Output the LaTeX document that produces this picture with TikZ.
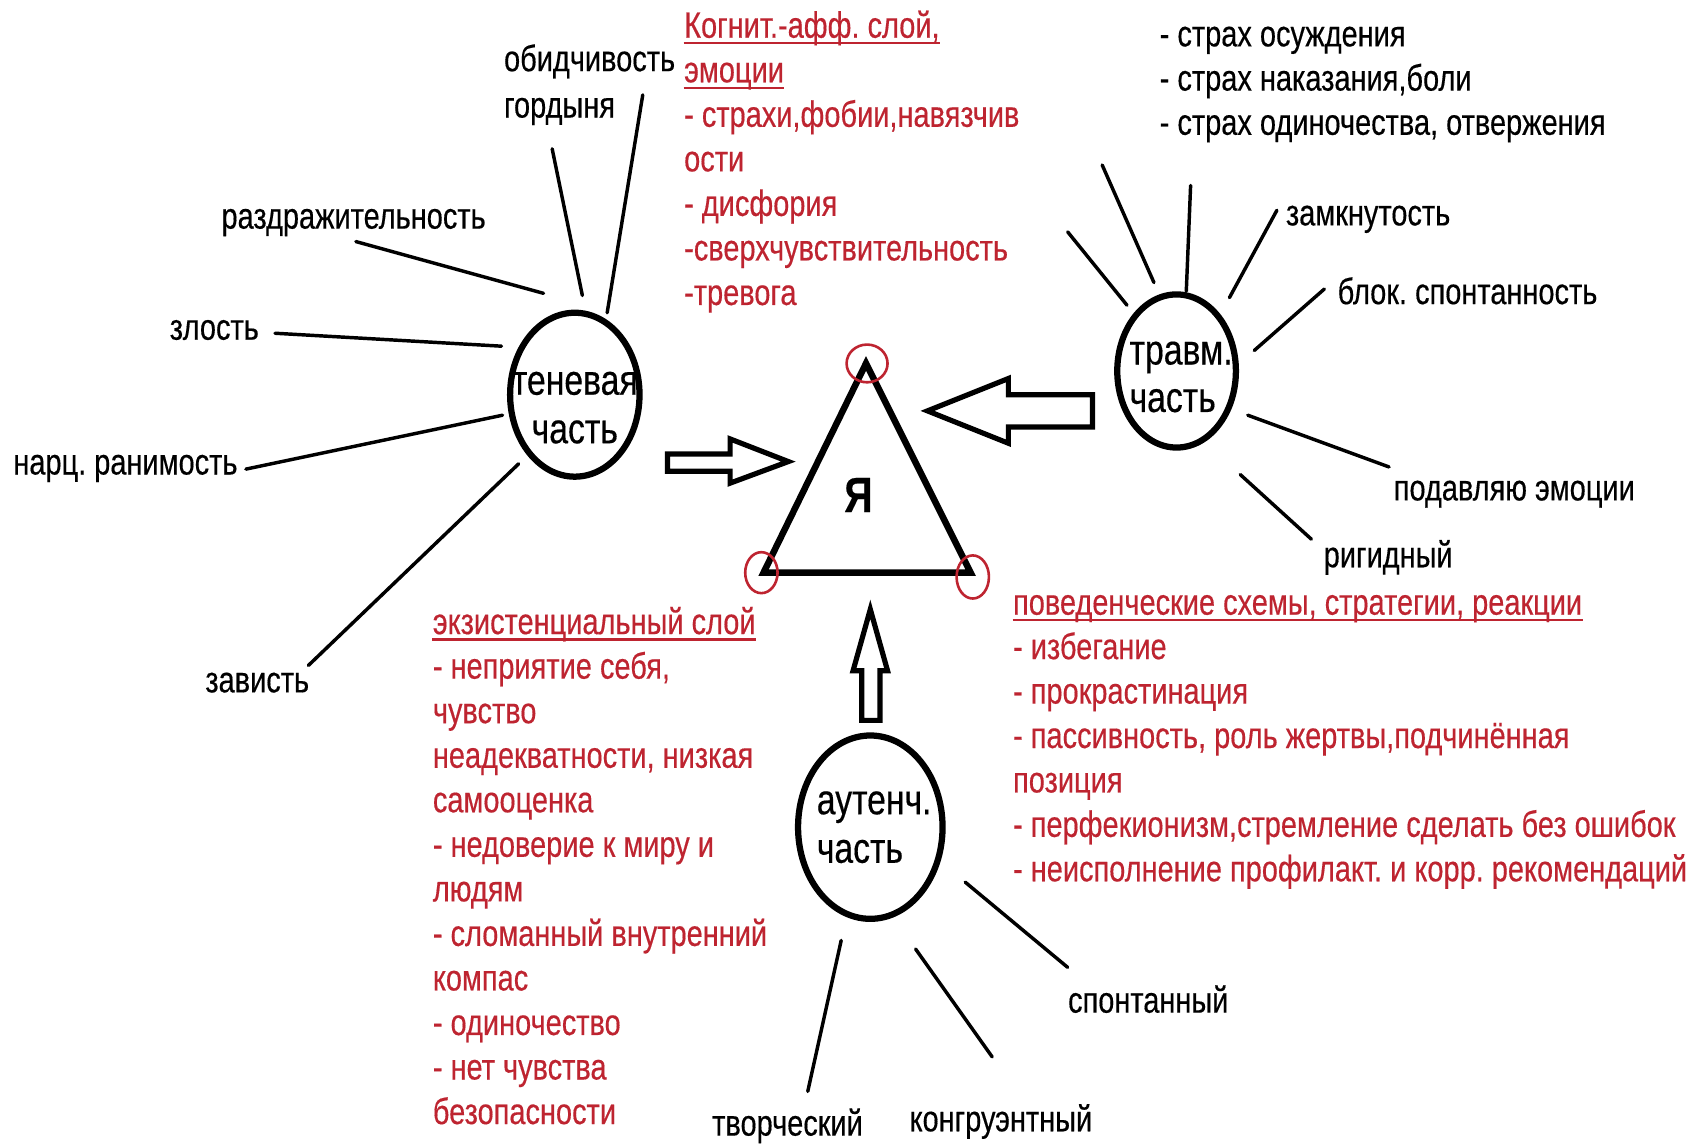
\documentclass[tikz,border=0pt]{standalone}
\usepackage{fontspec}
\setmainfont[FakeStretch=0.79,FakeBold=0.35]{Liberation Sans}
\usetikzlibrary{shapes.geometric}
\definecolor{rd}{RGB}{190,36,48}
\begin{document}
\frenchspacing
\begin{tikzpicture}[x=0.5pt,y=-0.5pt,
  lbl/.style={anchor=base west, inner sep=0pt, font=\fontsize{17}{20}\selectfont},
  rlbl/.style={lbl, text=rd},
  ray/.style={line width=1.6pt, line cap=round},
  part/.style={ellipse, draw, line width=2.9pt, inner sep=0pt},
  ptxt/.style={anchor=base west, inner sep=0pt, font=\fontsize{19.8}{23}\selectfont},
  vmark/.style={ellipse, draw=rd, line width=1.2pt, inner sep=0pt},
  blk/.style={draw, line width=2.4pt, line join=miter, fill=white},
  ul/.style={draw=rd, line width=1pt}]

\fill[white] (0,0) rectangle (1568,1064);
\useasboundingbox (0,0) rectangle (1568,1064);

% ---- parts (circles)
\node[part, minimum width=60pt, minimum height=76pt] (sh) at (533,366) {};
\node[part, minimum width=55pt, minimum height=71pt] (tr) at (1091,344) {};
\node[part, minimum width=67pt, minimum height=85pt] (au) at (807,767) {};

\node[ptxt, anchor=base] (sht1) at (533,366) {теневая};
\node[ptxt, anchor=base] (sht2) at (533,411) {часть};
\node[ptxt] (trt1) at (1047,338) {травм.};
\node[ptxt] (trt2) at (1047,382) {часть};
\node[ptxt] (aut1) at (757,755) {аутенч.};
\node[ptxt] (aut2) at (757,800) {часть};

% ---- triangle "Я"
\coordinate (A) at (803,337);
\coordinate (B) at (708,531);
\coordinate (C) at (900,531);
\draw[line width=3pt, line join=miter] (A) -- (B) -- (C) -- cycle;
\node[font=\bfseries\fontsize{23}{25}\selectfont, inner sep=0pt] (ya) at (796,459) {Я};
\node[vmark, minimum width=19pt, minimum height=17.5pt] (mA) at (804,337) {};
\node[vmark, minimum width=15pt, minimum height=19pt] (mB) at (706,531) {};
\node[vmark, minimum width=15pt, minimum height=20pt] (mC) at (902,535) {};

% ---- block arrows
\draw[blk] (619,421) -- (677,421) -- (677,407) -- (731,428) -- (677,448) -- (677,437) -- (619,437) -- cycle;
\draw[blk] (1013,366) -- (935,366) -- (935,351) -- (860,381) -- (935,411) -- (935,396) -- (1013,396) -- cycle;
\draw[blk] (799,668) -- (799,622) -- (791,622) -- (807,565) -- (823,622) -- (816,622) -- (816,668) -- cycle;

% ---- rays
\foreach \n/\ax/\ay/\bx/\by in {
  s1/563/290/596/88, s2/540/274/512/138, s3/504/272/330/224,
  s4/465/321/255/309, s5/466/385/228/435, s6/481/430/286/617,
  t1/1045/283/990/215, t2/1070/262/1022/153, t3/1100/270/1104/172,
  t4/1140/276/1184/195, t5/1163/325/1228/268, t6/1157/385/1288/433,
  t7/1150/440/1216/500,
  a1/780/872/749/1012, a2/849/880/920/980, a3/895/818/990/897}{
  \coordinate (\n a) at (\ax,\ay);
  \coordinate (\n b) at (\bx,\by);
  \draw[ray] (\n a) -- (\n b);
}

% ---- black labels
\node[lbl] (obid) at (467,66) {обидчивость};
\node[lbl] (gord) at (467,109) {гордыня};
\node[lbl] (razd) at (205,212) {раздражительность};
\node[lbl] (zlos) at (157,315) {злость};
\node[lbl] (narc) at (12,440) {нарц. ранимость};
\node[lbl] (zavi) at (190,642) {зависть};
\node[lbl] (zamk) at (1192,209) {замкнутость};
\node[lbl] (blok) at (1240,282) {блок. спонтанность};
\node[lbl] (poda) at (1292,464) {подавляю эмоции};
\node[lbl] (rigi) at (1227,526) {ригидный};
\node[lbl] (spon) at (990,939) {спонтанный};
\node[lbl] (tvor) at (660,1053) {творческий};
\node[lbl] (kong) at (843,1049) {конгруэнтный};
\foreach \t [count=\i from 0] in {{- страх осуждения}, {- страх наказания,боли}, {- страх одиночества, отвержения}}
  \node[lbl] (fr\i) at (1075,{43+41*\i}) {\t};

% ---- red lists
\foreach \t [count=\i from 0] in {{Когнит.-афф. слой,}, {эмоции}, {- страхи,фобии,навязчив}, {ости}, {- дисфория}, {-сверхчувствительность}, {-тревога}}
  \node[rlbl] (cg\i) at (634,{35+41.3*\i}) {\t};
\foreach \t [count=\i from 0] in {{поведенческие схемы, стратегии, реакции}, {- избегание}, {- прокрастинация}, {- пассивность, роль жертвы,подчинённая}, {позиция}, {- перфекионизм,стремление сделать без ошибок}, {- неисполнение профилакт. и корр. рекомендаций}}
  \node[rlbl] (bh\i) at (939,{570+41.2*\i}) {\t};
\foreach \t [count=\i from 0] in {{экзистенциальный слой}, {- неприятие себя,}, {чувство}, {неадекватности, низкая}, {самооценка}, {- недоверие к миру и}, {людям}, {- сломанный внутренний}, {компас}, {- одиночество}, {- нет чувства}, {безопасности}}
  \node[rlbl] (ex\i) at (401,{588+41.3*\i}) {\t};

\foreach \h in {cg0,cg1,bh0,ex0}
  \draw[ul] ([yshift=-2.5pt]\h.base west) -- ([yshift=-2.5pt]\h.base east);
\end{tikzpicture}
\end{document}
